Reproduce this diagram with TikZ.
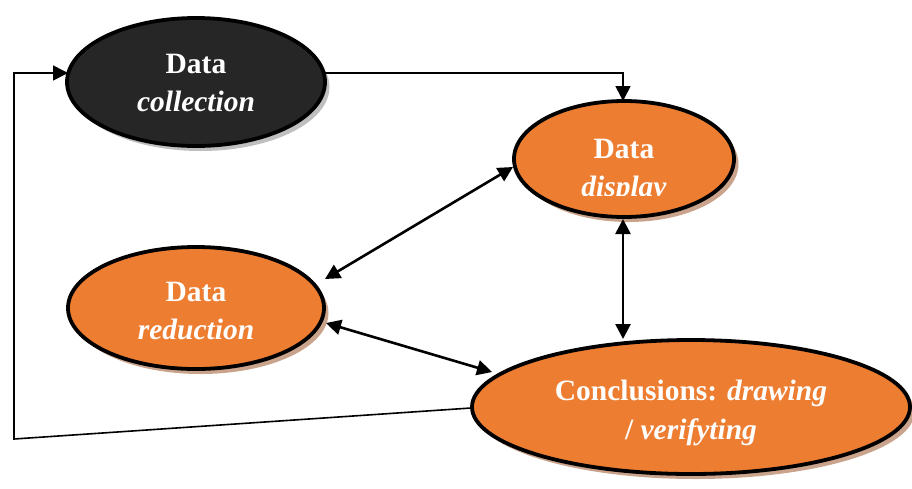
\documentclass[tikz,border=0pt]{standalone}
\usepackage{fontspec}
\setmainfont{Liberation Serif}
\usetikzlibrary{shapes.geometric,arrows.meta,calc}
\definecolor{orangefill}{HTML}{ED7D31}
\definecolor{darkfill}{HTML}{262626}
\definecolor{tanshadow}{HTML}{C9A38C}
\definecolor{greyshadow}{HTML}{BFBFBF}
\tikzset{
  blob/.style={ellipse, draw=black, line width=3.8pt, inner sep=0pt},
  orangeblob/.style={blob, fill=orangefill,
    preaction={fill=tanshadow, transform canvas={xshift=4.5pt,yshift=-5pt}}},
  darkblob/.style={blob, fill=darkfill,
    preaction={fill=greyshadow, transform canvas={xshift=4.5pt,yshift=-5pt}}},
  label/.style={text=white, align=center, font=\bfseries\fontsize{29.5}{38.5}\selectfont, inner sep=0pt},
  tip/.style={-{Triangle[length=15pt,width=15pt]}},
  bitip/.style={{Triangle[length=15pt,width=15pt]}-{Triangle[length=15pt,width=15pt]}},
  thinline/.style={line width=1.6pt},
  thickline/.style={line width=2.6pt}
}
\begin{document}
\begin{tikzpicture}[x=1pt,y=-1pt]
\useasboundingbox (0,0) rectangle (912,488);
% ellipses
\node[darkblob, minimum width=258pt, minimum height=128pt] (coll) at (196,82) {};
\node[orangeblob, minimum width=220pt, minimum height=116pt] (disp) at (624,159) {};
\node[orangeblob, minimum width=256pt, minimum height=122pt] (red) at (196,308) {};
\node[orangeblob, minimum width=438pt, minimum height=134pt] (conc) at (691,407) {};
% texts
\node[label] (tcoll) at (196,83) {Data\\\textit{collection}};
\node[label] (tred) at (196,311) {Data\\\textit{reduction}};
\node[label] (tconc) at (691,413) {Conclusions: \textit{drawing}\\/ \textit{verifyting}};
\begin{scope}
  \clip (500,100) rectangle (750,195);
  \node[label] (tdisp) at (624,171) {Data\\\textit{display}};
\end{scope}
% free end points
\coordinate (c1) at (325,73);
\coordinate (c2) at (623,101);
\coordinate (d1) at (513,167);
\coordinate (r1) at (325,279);
\coordinate (r2) at (326,323);
\coordinate (k1) at (492,372);
\coordinate (d2) at (623,219);
\coordinate (k2) at (623,339);
\coordinate (k3) at (471,408);
\coordinate (f1) at (14,439);
\coordinate (f2) at (14,73);
\coordinate (c3) at (68,73);
% connectors
\draw[thinline, tip] (c1) -| (c2);
\draw[thickline, bitip] (d1) -- (r1);
\draw[thickline, bitip] (r2) -- (k1);
\draw[thickline, bitip] (d2) -- (k2);
\draw[thinline, tip] (k3) -- (f1) -- (f2) -- (c3);
\end{tikzpicture}
\end{document}
